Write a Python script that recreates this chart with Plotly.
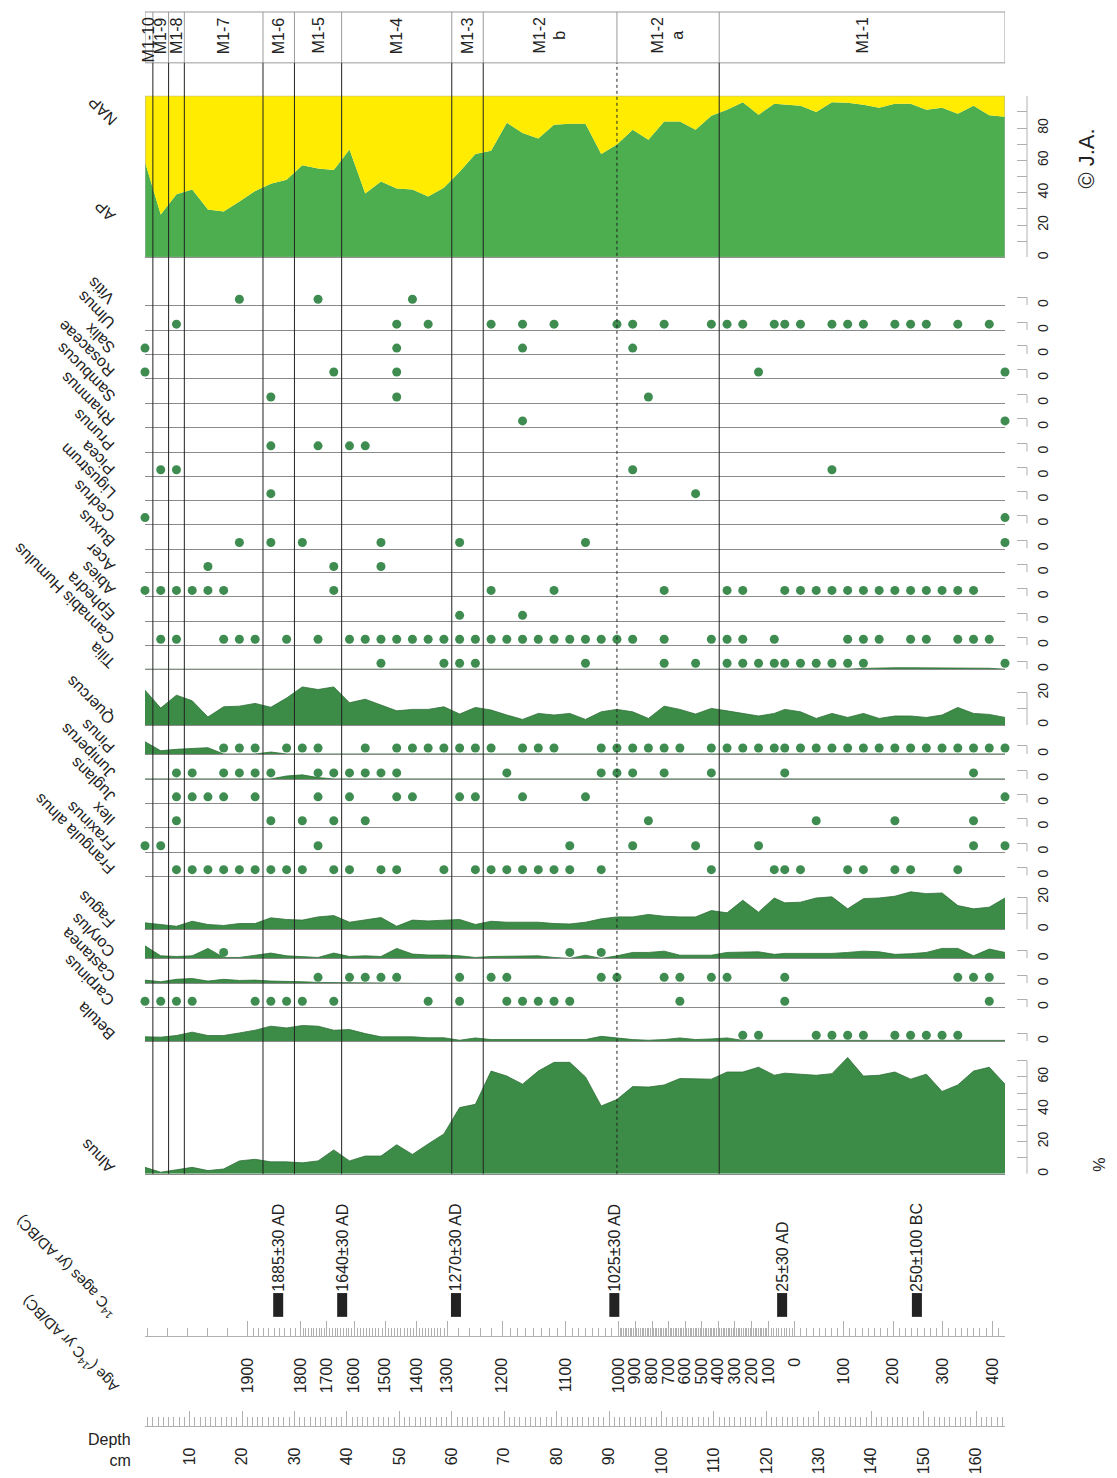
import numpy as np
import plotly.graph_objects as go

# target picture size; the html page puts an 8px body margin around the figure
PW, PH = 1117, 1478
OFF = 8
W, H = PW - OFF, PH - OFF
FONT = "Liberation Sans, Arial, sans-serif"

# ---- data (depth in cm, values in %) ----
depths = [1.5, 4.5, 7.5, 10.5, 13.5, 16.5, 19.5, 22.5, 25.5, 28.5, 31.5, 34.5, 37.5, 40.5,
          43.5, 46.5, 49.5, 52.5, 55.5, 58.5, 61.5, 64.5, 67.5, 70.5, 73.5, 76.5, 79.5, 82.5,
          85.5, 88.5, 91.5, 94.5, 97.5, 100.5, 103.5, 106.5, 109.5, 112.5, 115.5, 118.5, 121.5,
          123.5, 126.5, 129.5, 132.5, 135.5, 138.5, 141.5, 144.5, 147.5, 150.5, 153.5, 156.5,
          159.5, 162.5, 165.5]

ap = [59, 26.5, 39, 42, 29.6, 28.4, 34.6, 41, 45.5, 48, 57, 55, 54, 66.7, 39.5, 47, 42.6, 42,
      37.7, 43, 53, 64, 66, 83.3, 77, 73.5, 82, 82.7, 82.7, 64, 69.8, 79, 72.8, 84, 84, 79, 87.7,
      91.4, 96, 88.3, 95, 94.4, 93.8, 90, 96, 95.7, 94.4, 92.6, 95, 95, 91.4, 92.6, 88.9, 93.8, 88, 87]

alnus = [4, 1, 2.5, 4, 2, 3, 8, 9, 7.4, 7.4, 6.8, 8, 14.8, 8, 11, 11, 18, 12, 18.5, 24.7, 41, 43,
         63.6, 60.5, 55.5, 63.6, 69, 69, 60, 42, 46, 54, 53.7, 55, 59, 59, 58.6, 63, 63, 66, 61,
         62.3, 61.7, 61, 62, 72, 60.5, 61, 63, 58.6, 61.7, 51, 55, 63.6, 66, 55.5]

betula = [2.7, 2.5, 3.5, 5.6, 3.5, 3.5, 5.1, 6.8, 9.3, 8.2, 9.7, 9.3, 6.8, 7.2, 4.7, 2.7, 2.7, 2.7,
          2.1, 2.1, 0.6, 2, 1, 1, 1, 0.6, 0.6, 0.6, 1, 3, 2, 1, 0.6, 1, 2, 1, 1.4, 2, 0.5, 0.5, 0.5,
          0.5, 0.5, 0.5, 0.5, 0.5, 0.5, 0.5, 0.5, 0.5, 0.5, 0.5, 0.5, 0.5, 0.5, 0.5]

castanea = [2, 1, 2.5, 3, 1.4, 2.5, 1.8, 2, 1.4, 1.4, 1, 0.6, 0.5, 0, 0, 0, 0, 0, 0, 0, 0, 0, 0, 0,
            0, 0, 0, 0, 0, 0, 0, 0, 0, 0, 0, 0, 0, 0, 0, 0, 0, 0, 0, 0, 0, 0, 0, 0, 0, 0, 0, 0, 0,
            0, 0, 0]

corylus = [7.8, 1.6, 1.2, 1.6, 6.2, 0.6, 0.6, 2.1, 3.3, 1.6, 1.2, 0.6, 3.3, 1.2, 1.6, 1.2, 6.2, 2.7,
           2.1, 2.1, 1.6, 0.6, 1.2, 1.2, 1.2, 1.6, 0.6, 0, 2, 0, 1.6, 3.7, 3.7, 4.5, 2, 2, 2, 3.7,
           4.1, 4.1, 2.5, 3.1, 3.1, 3.1, 3.1, 3.7, 4.5, 4.1, 2.5, 2.9, 3.7, 6.2, 6.2, 1.6, 5.8, 3.7]

fagus = [4.1, 3.1, 2, 5.1, 3.1, 2.5, 3.7, 3.7, 7.2, 6.2, 5.8, 7.8, 8.6, 4.5, 5.8, 7.4, 2, 5.8, 5.3,
         5.8, 6.2, 3.1, 5.1, 4.5, 4.5, 4.5, 3.7, 3.4, 4.5, 6.6, 7.8, 7.8, 9.3, 8.2, 7.8, 7.8, 11.7,
         10.3, 18.1, 10.7, 19.5, 16.5, 16.9, 19.5, 20.2, 12.8, 19.1, 19.5, 20.6, 23.3, 22.2, 22.6,
         14.8, 12.8, 13.8, 19.5]

quercus = [21.6, 10.5, 18.5, 15, 5, 11.3, 11.7, 13.4, 11, 16.7, 23.6, 22, 23.6, 13.8, 16, 12.3, 8.8,
           9.7, 9.7, 11.3, 6.8, 10.9, 9.3, 6.2, 3.5, 7.2, 6.2, 7.2, 3.5, 8.2, 9.7, 8.2, 4.1, 11.7,
           9.7, 6.8, 10.3, 8.8, 7.2, 5.6, 7.2, 9.7, 8.2, 4.1, 7.2, 4.7, 7.2, 4.1, 5.6, 5.6, 4.7,
           6.2, 10.9, 7.2, 6.6, 4.7]

pinus = [7.6, 2, 2.9, 3.3, 3.9, 0, 0, 0, 1.2, 0, 0, 0, 0.4, 0, 0, 0, 0, 0, 0, 0, 0, 0, 0, 0, 0, 0,
         0, 0, 0, 0, 0, 0, 0, 0, 0, 0, 0, 0, 0, 0, 0, 0, 0, 0, 0, 0, 0, 0, 0, 0, 0, 0, 0, 0, 0, 0]

juniperus = [0, 0, 0, 0, 0, 0, 0, 0, 0, 1.8, 2.5, 0.8, 0, 0, 0, 0, 0, 0, 0, 0, 0, 0, 0, 0, 0, 0, 0,
             0, 0, 0, 0, 0, 0, 0, 0, 0, 0, 0, 0, 0, 0, 0, 0, 0, 0, 0, 0, 0, 0, 0, 0, 0, 0, 0, 0, 0]

tilia = [0, 0, 0, 0, 0, 0, 0, 0, 0, 0, 0, 0, 0, 0, 0, 0, 0, 0, 0, 0, 0, 0, 0, 0, 0, 0, 0, 0, 0, 0,
         0, 0, 0, 0, 0, 0, 0, 0, 0, 0, 0, 0, 0, 0, 0, 0, 0.5, 0.8, 0.9, 0.9, 0.9, 0.9, 1.0, 0.8, 0.6, 0]

# presence (<1 %) as sample depths
vitis_pts = [19.5, 34.5, 52.5]
ulmus_pts = [7.5, 49.5, 55.5, 67.5, 73.5, 79.5, 91.5, 94.5, 100.5, 109.5, 112.5, 115.5, 121.5,
             123.5, 126.5, 132.5, 135.5, 138.5, 144.5, 147.5, 150.5, 156.5, 162.5]
salix_pts = [1.5, 49.5, 73.5, 94.5]
rosaceae_pts = [1.5, 37.5, 49.5, 118.5, 165.5]
sambucus_pts = [25.5, 49.5, 97.5]
rhamnus_pts = [73.5, 165.5]
prunus_pts = [25.5, 34.5, 40.5, 43.5]
picea_pts = [4.5, 7.5, 94.5, 132.5]
ligustrum_pts = [25.5, 106.5]
cedrus_pts = [1.5, 165.5]
buxus_pts = [19.5, 25.5, 31.5, 46.5, 61.5, 85.5, 165.5]
acer_pts = [13.5, 37.5, 46.5]
abies_pts = [1.5, 4.5, 7.5, 10.5, 13.5, 16.5, 37.5, 67.5, 79.5, 100.5, 112.5, 115.5, 123.5, 126.5,
             129.5, 132.5, 135.5, 138.5, 141.5, 144.5, 147.5, 150.5, 153.5, 156.5, 159.5]
ephedra_pts = [61.5, 73.5]
cannabis_pts = [4.5, 7.5, 16.5, 19.5, 22.5, 28.5, 34.5, 40.5, 43.5, 46.5, 49.5, 52.5, 55.5, 58.5,
                61.5, 64.5, 67.5, 70.5, 73.5, 76.5, 79.5, 82.5, 85.5, 88.5, 91.5, 94.5, 100.5,
                109.5, 112.5, 115.5, 121.5, 135.5, 138.5, 141.5, 147.5, 150.5, 156.5, 159.5, 162.5]
tilia_pts = [46.5, 58.5, 61.5, 64.5, 85.5, 100.5, 106.5, 112.5, 115.5, 118.5, 121.5, 123.5, 126.5,
             129.5, 132.5, 135.5, 138.5, 165.5]
pinus_pts = [16.5, 19.5, 22.5, 28.5, 31.5, 34.5, 43.5, 49.5, 52.5, 55.5, 58.5, 61.5, 64.5, 67.5,
             73.5, 76.5, 79.5, 88.5, 91.5, 94.5, 97.5, 100.5, 103.5, 109.5, 112.5, 115.5, 118.5,
             121.5, 123.5, 126.5, 129.5, 132.5, 135.5, 138.5, 141.5, 144.5, 147.5, 150.5, 153.5,
             156.5, 159.5, 162.5, 165.5]
juniperus_pts = [7.5, 10.5, 16.5, 19.5, 22.5, 25.5, 34.5, 37.5, 40.5, 43.5, 46.5, 49.5, 70.5, 88.5,
                 91.5, 94.5, 100.5, 109.5, 123.5, 159.5]
juglans_pts = [7.5, 10.5, 13.5, 16.5, 22.5, 34.5, 40.5, 49.5, 52.5, 61.5, 64.5, 73.5, 85.5, 165.5]
ilex_pts = [7.5, 25.5, 31.5, 37.5, 43.5, 97.5, 129.5, 144.5, 159.5]
fraxinus_pts = [1.5, 4.5, 34.5, 82.5, 94.5, 106.5, 118.5, 159.5, 165.5]
frangula_pts = [7.5, 10.5, 13.5, 16.5, 19.5, 22.5, 25.5, 28.5, 31.5, 37.5, 40.5, 46.5, 49.5, 58.5,
                64.5, 67.5, 70.5, 73.5, 76.5, 79.5, 82.5, 88.5, 109.5, 121.5, 123.5, 126.5, 135.5,
                138.5, 144.5, 147.5, 156.5]
corylus_pts = [16.5, 82.5, 88.5]
castanea_pts = [34.5, 40.5, 43.5, 46.5, 49.5, 61.5, 67.5, 70.5, 88.5, 91.5, 100.5, 103.5, 109.5,
                112.5, 123.5, 156.5, 159.5, 162.5]
carpinus_pts = [1.5, 4.5, 7.5, 10.5, 22.5, 25.5, 28.5, 31.5, 37.5, 55.5, 61.5, 70.5, 73.5, 76.5,
                79.5, 82.5, 103.5, 123.5, 162.5]
betula_pts = [115.5, 118.5, 129.5, 132.5, 135.5, 138.5, 144.5, 147.5, 150.5, 153.5, 156.5]

# pollen zones (boundaries in cm)
zone_edges = [1.5, 3, 6, 9, 24, 30, 39, 60, 66, 91.5, 111, 165.5]
zone_names = ["M1-10", "M1-9", "M1-8", "M1-7", "M1-6", "M1-5", "M1-4", "M1-3",
              "M1-2<br>b", "M1-2<br>a", "M1-1"]
subzone_edge = 91.5

# radiocarbon dates
date_depths = [26.9, 39.1, 60.8, 91.0, 123.0, 148.7]
date_labels = ["1885±30 AD", "1640±30 AD", "1270±30 AD", "1025±30 AD", "25±30 AD", "250±100 BC"]

# age scale (signed year, negative = BC) vs depth
age_years = [2000, 1900, 1800, 1700, 1600, 1500, 1400, 1300, 1200, 1100, 1000, 900, 800, 700,
             600, 500, 400, 300, 200, 100, 0, -100, -200, -300, -400, -450]
age_depths = [1.9, 21.1, 31.2, 36.2, 41.4, 47.3, 53.3, 59.1, 69.6, 81.7, 91.8, 95.0, 98.2, 101.3,
              104.5, 107.7, 110.8, 114.0, 117.2, 120.4, 125.4, 134.7, 144.2, 153.6, 163.1, 167.9]

# ---- styling ----
S = 1.62                      # px per percent
GREEN = "#3c8c47"
GREEN_LINE = "#2e6e37"
AP_GREEN = "#4cae4f"
YELLOW = "#ffec00"
DOT = "#3f8c50"
GRID = "#8a8a8a"
AX = "#b0b0b0"
TXT = "#222222"
X0, X1 = 145, 1005
AXIS_X = 1027
DOT_LIFT = 3.7

rows = [
    # name, curve, dots, baseline px, axis kind
    ("AP", ap, None, 256, "ap"),
    ("Vitis", None, vitis_pts, 304, "s"),
    ("Ulmus", None, ulmus_pts, 329, "s"),
    ("Salix", None, salix_pts, 353, "s"),
    ("Rosaceae", None, rosaceae_pts, 377, "s"),
    ("Sambucus", None, sambucus_pts, 402, "s"),
    ("Rhamnus", None, rhamnus_pts, 426, "s"),
    ("Prunus", None, prunus_pts, 451, "s"),
    ("Picea", None, picea_pts, 475, "s"),
    ("Ligustrum", None, ligustrum_pts, 499, "s"),
    ("Cedrus", None, cedrus_pts, 523, "s"),
    ("Buxus", None, buxus_pts, 548, "s"),
    ("Acer", None, acer_pts, 572, "s"),
    ("Abies", None, abies_pts, 596, "s"),
    ("Ephedra", None, ephedra_pts, 621, "s"),
    ("Cannabis Humulus", None, cannabis_pts, 645, "s"),
    ("Tilia", tilia, tilia_pts, 669, "s"),
    ("Quercus", quercus, None, 725, "m"),
    ("Pinus", pinus, pinus_pts, 754, "s"),
    ("Juniperus", juniperus, juniperus_pts, 779, "s"),
    ("Juglans", None, juglans_pts, 803, "s"),
    ("Ilex", None, ilex_pts, 827, "s"),
    ("Fraxinus", None, fraxinus_pts, 852, "s"),
    ("Frangula alnus", None, frangula_pts, 876, "s"),
    ("Fagus", fagus, None, 930, "m"),
    ("Corylus", corylus, corylus_pts, 959, "s"),
    ("Castanea", castanea, castanea_pts, 984, "s"),
    ("Carpinus", None, carpinus_pts, 1008, "s"),
    ("Betula", betula, betula_pts, 1042, "s"),
    ("Alnus", alnus, None, 1175, "l"),
]

axis_kinds = {
    "ap": (list(range(0, 101, 10)), ["0", "", "20", "", "40", "", "60", "", "80", "", ""], 100),
    "l": (list(range(0, 71, 10)), ["0", "", "20", "", "40", "", "60", ""], 70),
    "m": ([0, 10, 20], ["0", "", "20"], 20),
    "s": ([0, 5], ["0", ""], 5),
}


def ref(kind, i):
    return kind if i == 1 else f"{kind}{i}"


def px(x):
    return (x - OFF) / W


def py(y):
    return 1 - (y - OFF) / H


fig = go.Figure()
layout = {}
shapes = []
annotations = []
xdom = [px(X0), px(X1)]

for i, (name, curve, dots, base, kind) in enumerate(rows, start=1):
    xr, yr = ref("x", i), ref("y", i)
    vals = [v for v in (curve or [0])]
    top = max(8.0, max(vals) * 1.08)
    if kind == "ap":
        top = 100
    layout[ref("xaxis", i)] = dict(
        domain=xdom, range=[1.5, 165.5], anchor=yr, showline=True, linecolor=GRID,
        linewidth=1, showgrid=False, zeroline=False, ticks="", showticklabels=False,
        **({} if i == 1 else dict(matches="x")))
    tv, tt, ltop = axis_kinds[kind]
    layout[ref("yaxis", i)] = dict(
        domain=[py(base), py(base - top * S)], range=[0, top], anchor="free",
        position=px(AXIS_X), side="right", showline=False, showgrid=False, zeroline=False,
        ticks="inside", ticklen=10, tickcolor=AX, tickvals=tv, ticktext=tt, tickangle=-90,
        tickfont=dict(size=14, color=TXT, family=FONT), ticklabelstandoff=6)
    shapes.append(dict(type="line", xref="paper", yref=yr, x0=px(AXIS_X), x1=px(AXIS_X),
                       y0=0, y1=ltop, line=dict(color=AX, width=1)))

    if kind == "ap":
        nap = [100 - v for v in ap]
        fig.add_trace(go.Scatter(x=depths, y=ap, xaxis=xr, yaxis=yr, mode="lines",
                                 stackgroup="apnap", line=dict(width=0), fillcolor=AP_GREEN,
                                 hoverinfo="skip"))
        fig.add_trace(go.Scatter(x=depths, y=nap, xaxis=xr, yaxis=yr, mode="lines",
                                 stackgroup="apnap", line=dict(width=0), fillcolor=YELLOW,
                                 hoverinfo="skip"))
        shapes.append(dict(type="rect", xref=xr, yref=yr, x0=1.5, x1=165.5, y0=0, y1=100,
                           line=dict(color=AX, width=1), layer="above"))
    elif curve is not None:
        fig.add_trace(go.Scatter(x=depths, y=curve, xaxis=xr, yaxis=yr, mode="lines",
                                 fill="tozeroy", fillcolor=GREEN,
                                 line=dict(color=GREEN_LINE, width=0.8), hoverinfo="skip"))
    if dots:
        fig.add_trace(go.Scatter(x=dots, y=[DOT_LIFT] * len(dots), xaxis=xr, yaxis=yr,
                                 mode="markers", cliponaxis=False, hoverinfo="skip",
                                 marker=dict(size=9, color=DOT)))

    label_y = 226 if kind == "ap" else base + 5
    annotations.append(dict(text=name, xref="paper", yref="paper", x=px(121), y=py(label_y),
                            xanchor="right", yanchor="bottom", textangle=-135, showarrow=False,
                            font=dict(size=16, color=TXT, family=FONT)))

# NAP label for the AP panel
annotations.append(dict(text="NAP", xref="paper", yref="paper", x=px(123), y=py(130),
                        xanchor="right", yanchor="bottom", textangle=-135, showarrow=False,
                        font=dict(size=16, color=TXT, family=FONT)))

n = len(rows)

# age scale
age_asc_y = age_years[::-1]
age_asc_d = age_depths[::-1]
minor_ages = np.concatenate([np.arange(2000, 1900, -20), np.arange(1890, 1300, -10),
                             np.arange(1280, 1200, -20), np.arange(1187.5, 1000, -12.5),
                             np.arange(990, 0, -10), np.arange(-12.5, -460, -12.5)])
minor_d = [float(d) for d in np.interp(minor_ages, age_asc_y, age_asc_d) if d <= 165.5]
lab_years = age_years[1:-1]
lab_depths = age_depths[1:-1]
lab_text = [str(abs(a)) for a in lab_years]

ia = n + 1
layout[ref("xaxis", ia)] = dict(
    domain=xdom, range=[1.5, 165.5], anchor=ref("y", ia), matches="x", showline=True,
    linecolor=AX, linewidth=1, showgrid=False, zeroline=False, ticks="inside", ticklen=15,
    tickcolor=AX, tickmode="array", tickvals=lab_depths, ticktext=lab_text, tickangle=-90,
    tickfont=dict(size=16, color=TXT, family=FONT), ticklabelstandoff=14,
    minor=dict(tickmode="array", tickvals=minor_d, ticks="inside", ticklen=8, tickcolor=AX))
layout[ref("yaxis", ia)] = dict(domain=[py(1338), py(1330)], visible=False)
fig.add_trace(go.Scatter(x=[1.5], y=[0], xaxis=ref("x", ia), yaxis=ref("y", ia), mode="markers",
                         marker=dict(opacity=0), hoverinfo="skip"))

# depth scale
idp = n + 2
layout[ref("xaxis", idp)] = dict(
    domain=xdom, range=[1.5, 165.5], anchor=ref("y", idp), matches="x", showline=True,
    linecolor=AX, linewidth=1, showgrid=False, zeroline=False, ticks="inside", ticklen=15,
    tickcolor=AX, tickmode="array", tickvals=list(range(10, 161, 10)), tickangle=-90,
    tickfont=dict(size=16, color=TXT, family=FONT), ticklabelstandoff=14,
    minor=dict(dtick=1, tick0=0, ticks="inside", ticklen=9, tickcolor=AX))
layout[ref("yaxis", idp)] = dict(domain=[py(1428), py(1420)], visible=False)
fig.add_trace(go.Scatter(x=[1.5], y=[0], xaxis=ref("x", idp), yaxis=ref("y", idp),
                         mode="markers", marker=dict(opacity=0), hoverinfo="skip"))

# radiocarbon dates
idt = n + 3
layout[ref("xaxis", idt)] = dict(domain=xdom, range=[1.5, 165.5], anchor=ref("y", idt),
                                 matches="x", visible=False)
layout[ref("yaxis", idt)] = dict(domain=[py(1316), py(1297)], range=[-1, 1], visible=False)
fig.add_trace(go.Scatter(x=date_depths, y=[0] * len(date_depths), xaxis=ref("x", idt),
                         yaxis=ref("y", idt), mode="markers", cliponaxis=False,
                         hoverinfo="skip",
                         marker=dict(symbol="line-ns", size=17, color=TXT,
                                     line=dict(width=10, color=TXT))))
for d, t in zip(date_depths, date_labels):
    annotations.append(dict(text=t, xref="x", yref="paper", x=d, y=py(1295), xanchor="center",
                            yanchor="bottom", textangle=-90, showarrow=False,
                            font=dict(size=16, color=TXT, family=FONT)))

# zone box and boundaries
shapes.append(dict(type="rect", xref="x", yref="paper", x0=1.5, x1=165.5, y0=py(61), y1=py(10),
                   line=dict(color="#9a9a9a", width=1)))
for e in zone_edges[1:-1]:
    shapes.append(dict(type="line", xref="x", yref="paper", x0=e, x1=e, y0=py(61), y1=py(10),
                       line=dict(color="#9a9a9a", width=1)))
    shapes.append(dict(type="line", xref="x", yref="paper", x0=e, x1=e, y0=py(1175), y1=py(61),
                       layer="above",
                       line=dict(color=TXT, width=1, dash="dot" if e == subzone_edge else "solid")))
for a, b, nm in zip(zone_edges[:-1], zone_edges[1:], zone_names):
    annotations.append(dict(text=nm, xref="x", yref="paper", x=(a + b) / 2, y=py(13),
                            xanchor="center", yanchor="top", textangle=-90, showarrow=False,
                            font=dict(size=16, color=TXT, family=FONT)))

# axis titles and notes
annotations += [
    dict(text="Age (<sup>14</sup>C yr AD/BC)", xref="paper", yref="paper", x=px(124), y=py(1402),
         xanchor="right", yanchor="bottom", textangle=-135, showarrow=False,
         font=dict(size=15, color=TXT, family=FONT)),
    dict(text="<sup>14</sup>C ages (yr AD/BC)", xref="paper", yref="paper", x=px(122),
         y=py(1326), xanchor="right", yanchor="bottom", textangle=-135, showarrow=False,
         font=dict(size=15, color=TXT, family=FONT)),
    dict(text="Depth<br>cm", xref="paper", yref="paper", x=px(133), y=py(1452), xanchor="right",
         yanchor="middle", align="right", showarrow=False,
         font=dict(size=16, color=TXT, family=FONT)),
    dict(text="%", xref="paper", yref="paper", x=px(1100), y=py(1166), xanchor="center",
         yanchor="middle", textangle=-90, showarrow=False,
         font=dict(size=16, color=TXT, family=FONT)),
    dict(text="© J.A.", xref="paper", yref="paper", x=px(1087), y=py(157), xanchor="center",
         yanchor="middle", textangle=-90, showarrow=False,
         font=dict(size=22, color=TXT, family=FONT)),
]

fig.update_layout(
    width=W, height=H, margin=dict(l=0, r=0, t=0, b=0), showlegend=False,
    paper_bgcolor="white", plot_bgcolor="rgba(0,0,0,0)",
    font=dict(family=FONT, color=TXT), shapes=shapes, annotations=annotations, **layout)

fig.write_html("out.html")
